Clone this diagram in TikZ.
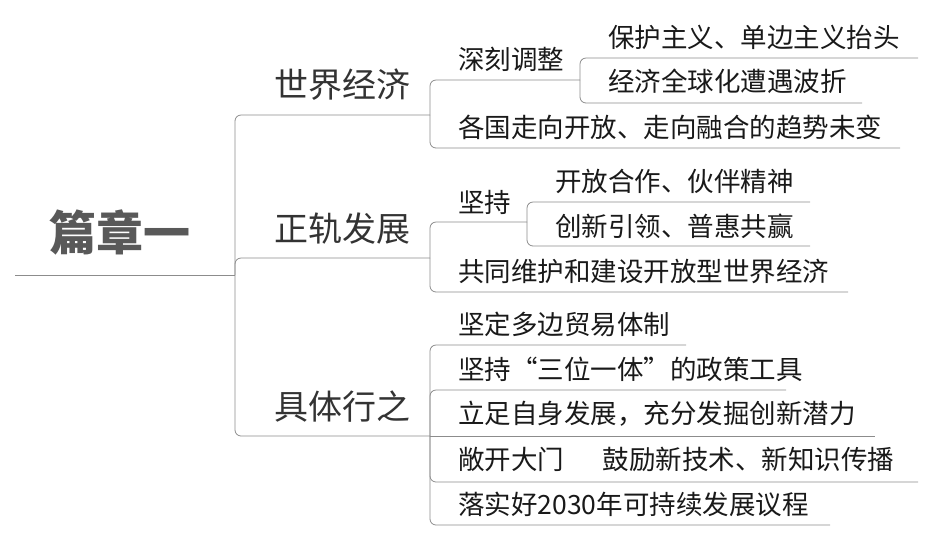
\documentclass[tikz,border=0pt]{standalone}
\usepackage{fontspec}
\newfontfamily\cjk{Noto Sans CJK SC}
\usetikzlibrary{positioning}

\begin{document}
\begin{tikzpicture}[
    x=1pt, y=-1pt,
    every node/.style={font=\cjk, text=black!90, inner sep=0pt},
    branch/.style={draw=black!45, line width=0.8pt, rounded corners=6pt},
    topic/.style={font=\cjk\fontsize{34}{34}\selectfont, text=black!80},
    leaf/.style={font=\cjk\fontsize{26.5}{26.5}\selectfont, anchor=west}
  ]
  \useasboundingbox (0,0) rectangle (934,542);

  % Root
  \node [font=\cjk\bfseries\fontsize{47}{47}\selectfont, text=black!65] (root) at (120,232) {篇章一};
  \coordinate (r0) at (15,275);
  \coordinate (r1) at (235,275);
  \draw [branch] (r0) -- (r1);

  % Main topics
  \node [topic] (world) at (342,85) {世界经济};
  \node [topic] (track) at (342,229) {正轨发展};
  \node [topic] (act) at (342,407) {具体行之};
  \draw [branch] (r1) |- (430,115);
  \draw [branch] (r1) |- (430,258);
  \draw [branch] (r1) |- (430,436);

  % World economy
  \node [leaf] (adjust) at (458,59) {深刻调整};
  \node [leaf] (open) at (458,127) {各国走向开放、走向融合的趋势未变};
  \draw [branch] (430,115) |- (580,80);
  \draw [branch] (430,115) |- (900,148);
  \node [leaf] (protect) at (608,37) {保护主义、单边主义抬头};
  \node [leaf] (global) at (608,81) {经济全球化遭遇波折};
  \draw [branch] (580,80) |- (918,58);
  \draw [branch] (580,80) |- (862,103);

  % On track
  \node [leaf] (keep) at (458,202) {坚持};
  \node [leaf] (jointly) at (458,271) {共同维护和建设开放型世界经济};
  \draw [branch] (430,258) |- (527,222);
  \draw [branch] (430,258) |- (848,292);
  \node [leaf] (coop) at (555,181) {开放合作、伙伴精神};
  \node [leaf] (innov) at (555,226) {创新引领、普惠共赢};
  \draw [branch] (527,222) |- (810,202);
  \draw [branch] (527,222) |- (810,246);

  % Actions
  \node [leaf] (multi) at (458,324) {坚定多边贸易体制};
  \node [leaf] (trinity) at (458,369) {坚持“三位一体”的政策工具};
  \node [leaf] (self) at (458,414) {立足自身发展，充分发掘创新潜力};
  \node [leaf] (door) at (458,459) {敞开大门};
  \node [leaf, right=38pt of door] (tech) {鼓励新技术、新知识传播};
  \node [leaf] (agenda) at (458,504) {落实好2030年可持续发展议程};
  \draw [branch] (430,436) |- (686,345);
  \draw [branch] (430,436) |- (786,390);
  \draw [branch] (430,436) -- (875,436);
  \draw [branch] (430,436) |- (918,482);
  \draw [branch] (430,436) |- (830,525);
\end{tikzpicture}
\end{document}
